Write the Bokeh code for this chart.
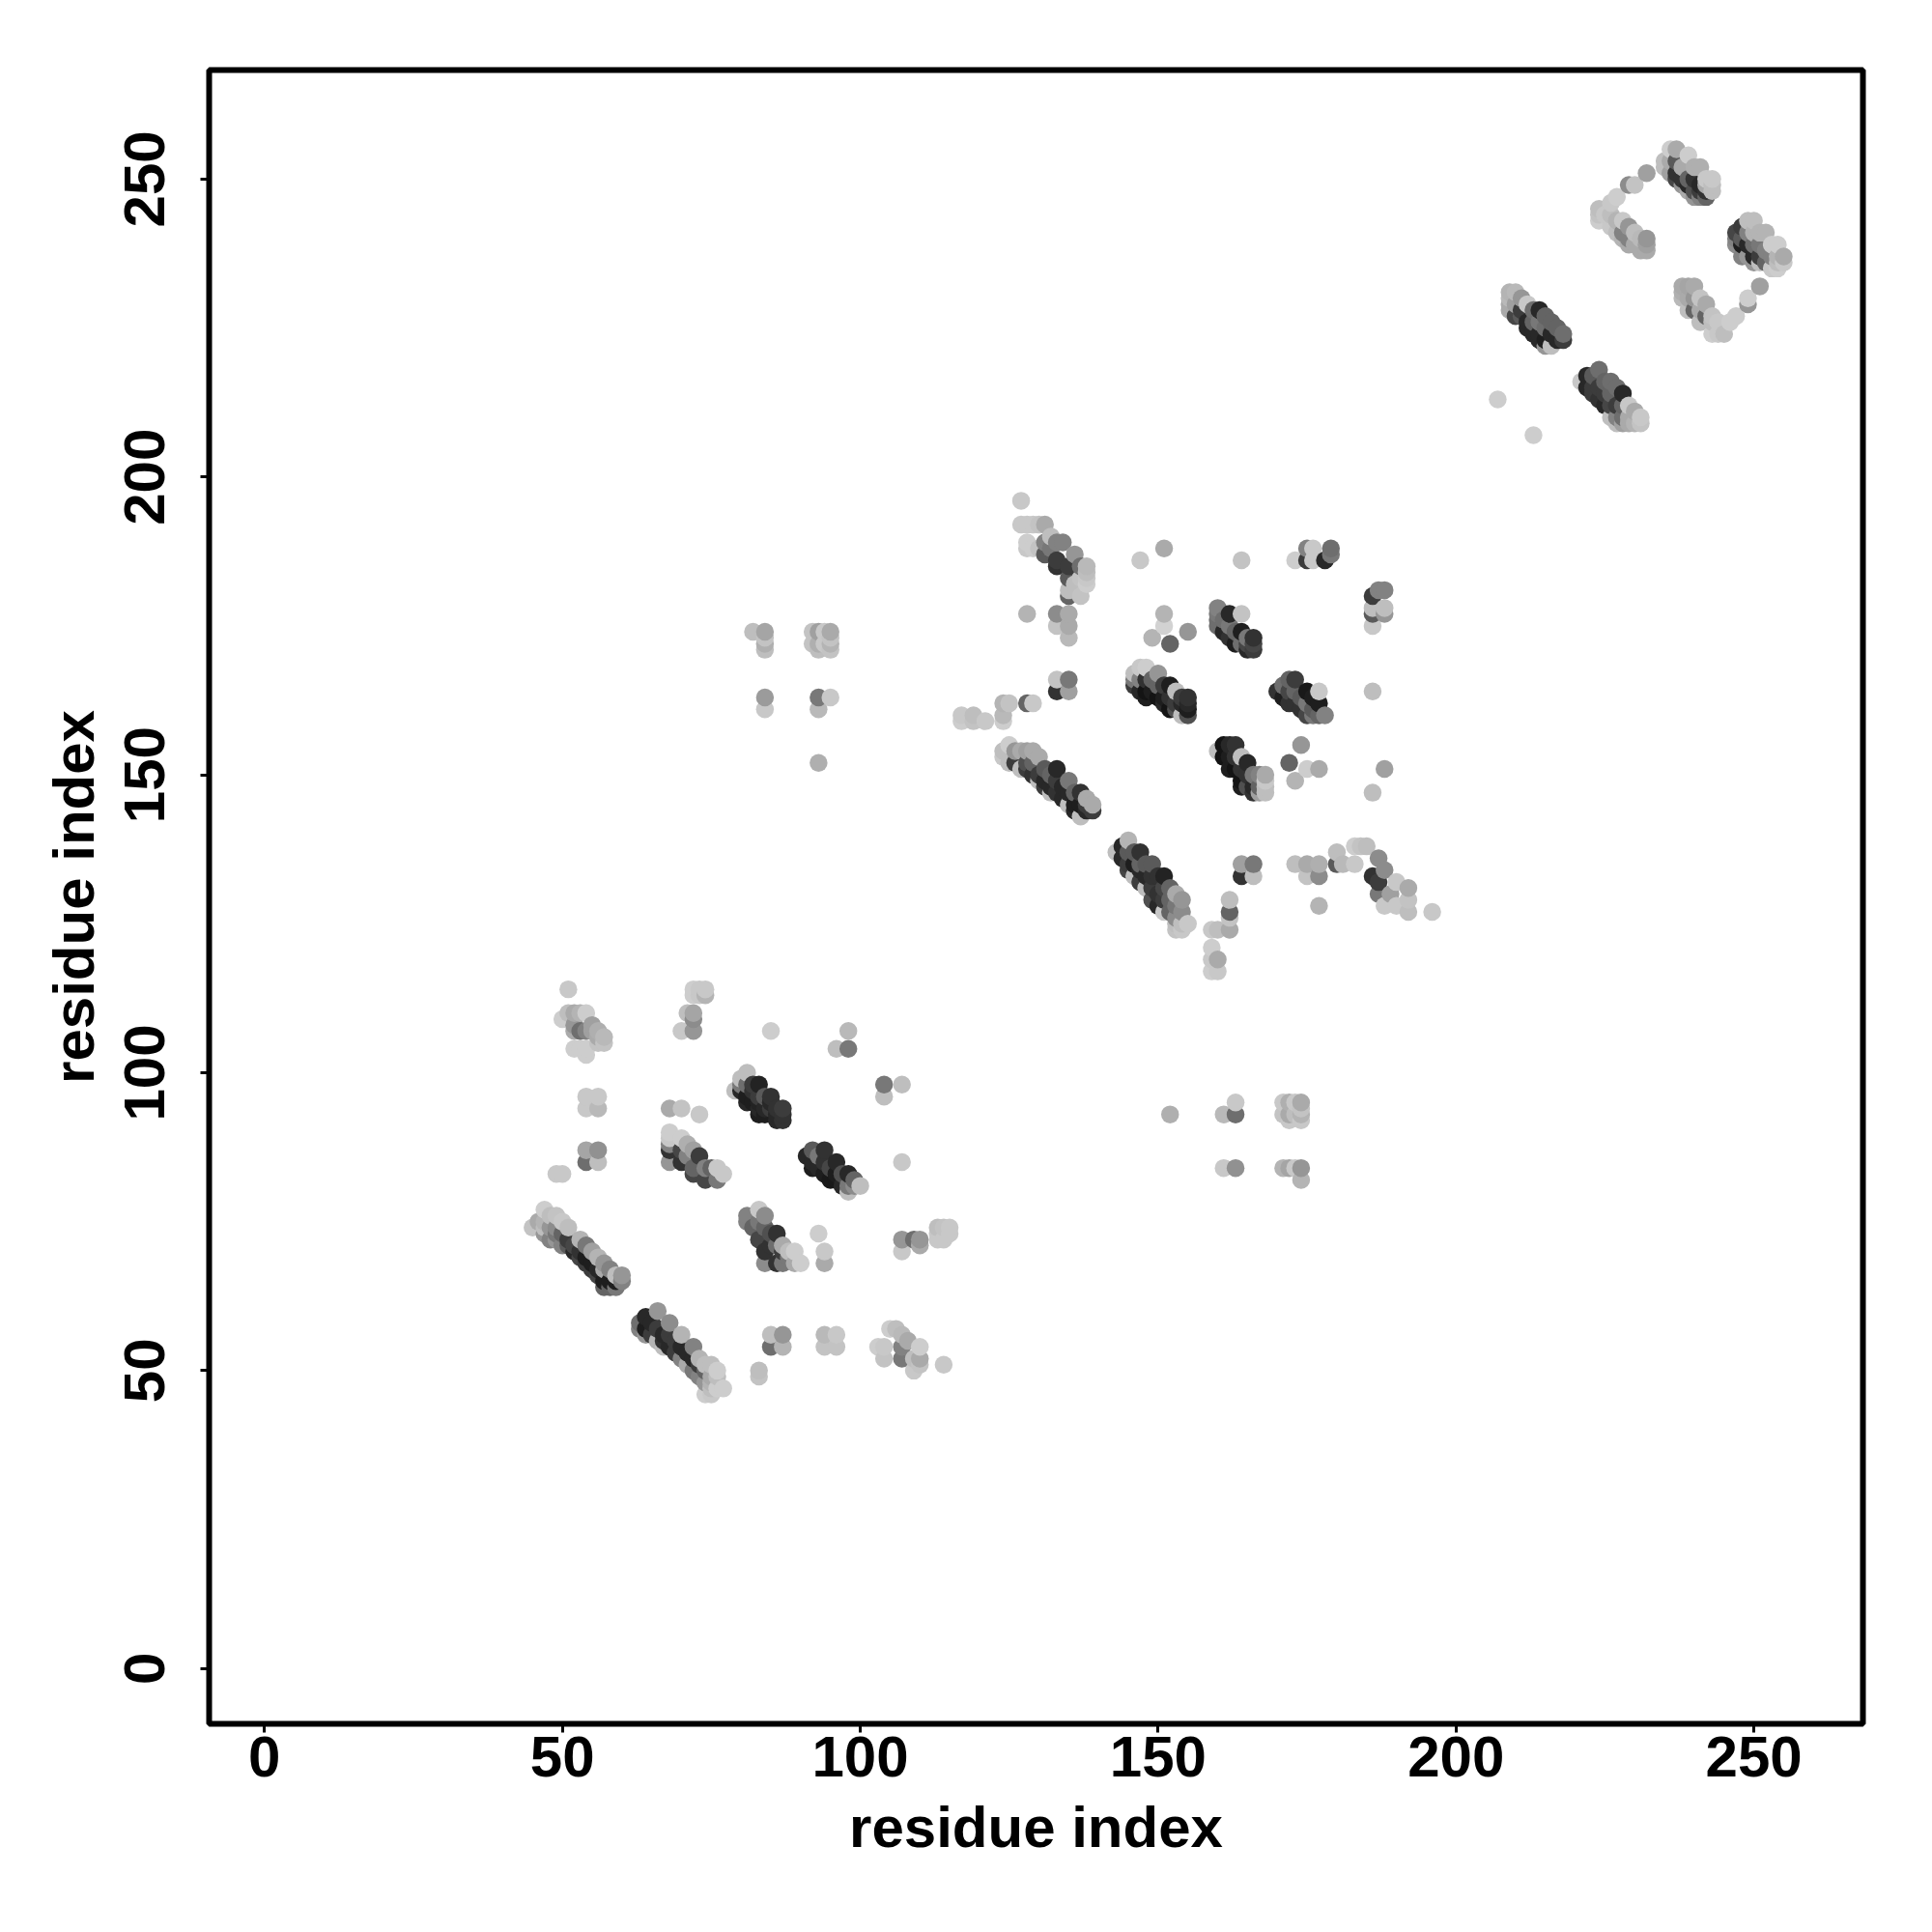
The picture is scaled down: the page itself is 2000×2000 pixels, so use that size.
from bokeh.plotting import figure
from bokeh.models import ColumnDataSource, Range1d, FixedTicker
from bokeh.embed import file_html
from bokeh.resources import INLINE

# contacts: (residue x, residue y, grey level)
iso_a = [(51,114,200),(85,107,205),(98,107,185),(98,104,120),(96,104,190),(104,98,120),(107,98,190),(104,96,190),(107,85,200),
         (93,73,205),(94,70,200),(94,68,170),(107,72,150),(107,70,200),(109,72,110),(110,72,150),(110,71,170),
         (113,74,190),(114,74,195),(115,74,200),(113,73,200),(115,73,200),(113,72,200),(114,72,200)]
clu_a = [(50,109,205),(51,110,190),(52,110,170),(53,110,180),(54,110,205),(52,108,150),(52,107,170),(53,107,110),(54,107,130),
         (55,108,160),(55,107,160),(56,107,175),(56,106,170),(57,106,185),(57,105,195),(56,105,195),(52,104,205),(53,104,205),(54,104,205),(54,103,205)]
clu_b = [(72,114,205),(73,114,200),(74,114,200),(72,113,205),(73,113,200),(74,113,180),(71,110,190),(72,110,165),(72,109,140),(70,107,200),(72,107,150)]
clu_c = [(54,96,200),(56,96,200),(54,94,200),(56,94,185),(54,87,165),(56,87,145),(54,85,110),(56,85,190),(49,83,200),(50,83,200)]
band_e = [(68,94,170),(70,94,195),(73,93,200),(68,90,205),(68,89,200),(70,89,205),(71,88,175),(73,86,60),(68,88,130),(68,87,50),(68,85,150),
          (70,87,70),(70,85,50),(72,83,70),(72,84,100),(74,82,70),(74,84,130),(75,84,100),(76,84,200),(76,82,120),(77,83,200),(71,86,130),(72,87,160)]
band_f = [(79,97,190),(80,99,190),(80,98,120),(80,97,40),(81,100,190),(81,98,110),(81,96,30),(81,95,40),(82,98,60),(82,97,50),(82,95,30),
          (83,98,35),(83,96,60),(83,95,35),(83,94,40),(83,93,30),(84,96,90),(84,94,40),(84,93,30),(85,96,50),(85,95,40),(85,94,60),
          (86,94,50),(86,93,40),(86,92,40),(87,94,60),(87,93,50),(87,92,50)]
band_g = [(91,86,40),(92,87,90),(92,85,40),(92,84,30),(93,86,120),(93,84,40),(94,87,50),(94,85,50),(94,83,30),(95,84,70),(95,82,25),
          (96,85,40),(96,83,30),(96,82,25),(97,83,80),(97,81,40),(98,83,40),(98,81,120),(98,80,190),(99,82,100),(99,81,140),(100,81,190)]
band_h = [(81,76,130),(81,75,130),(82,74,100),(83,77,200),(83,75,120),(83,72,70),(84,76,140),(84,74,100),(84,70,50),(84,68,140),(85,73,80),(85,71,50),
          (86,73,50),(86,71,110),(86,68,50),(87,71,170),(87,70,60),(87,68,120),(88,70,190),(88,69,120),(89,70,205),(89,68,170),(90,68,205)]
band_i = [(45,74,195),(46,75,170),(47,77,205),(47,75,180),(47,74,190),(47,73,150),(48,76,190),(48,74,150),(48,72,130),(49,76,195),(49,74,140),
          (49,73,120),(49,72,150),(50,75,200),(50,73,100),(50,71,130),(51,74,190),(51,72,60),(51,71,90),(52,71,70),(52,70,40),(53,72,180),(53,70,50),
          (53,69,70),(54,71,120),(54,69,30),(54,68,60),(55,70,160),(55,68,30),(55,67,60),(56,69,180),(56,67,40),(56,66,70),(57,68,150),(57,67,170),
          (57,65,30),(57,64,100),(58,67,130),(58,65,30),(58,64,100),(59,66,190),(59,65,30),(59,64,120),(60,66,150),(60,65,130)]
band_j = [(63,58,110),(63,57,130),(64,59,40),(64,57,30),(64,56,150),(65,58,40),(65,56,60),(66,60,150),(66,57,60),(66,55,180),(67,56,40),(67,55,50),
          (67,54,190),(68,58,140),(68,56,60),(68,54,40),(69,55,60),(69,53,60),(70,56,180),(70,54,40),(70,52,130),(71,53,40),(71,51,170),(72,54,130),
          (72,52,40),(72,50,120),(73,52,180),(73,51,60),(73,49,130),(74,51,190),(74,50,100),(74,48,150),(74,46,205),(75,51,190),(75,49,170),(75,48,180),
          (75,47,190),(75,46,200),(76,50,205),(76,49,190),(76,47,205),(77,47,205)]
low_a = [(85,56,190),(87,56,150),(85,54,110),(87,54,180),(83,50,190),(83,49,195),(94,56,185),(96,56,200),(94,54,195),(96,54,195),
         (105,57,205),(106,57,190),(103,54,205),(104,54,200),(104,52,195),(107,56,185),(107,54,130),(108,55,170),(110,54,205),(110,52,170),
         (110,51,195),(109,52,190),(109,50,200),(107,52,120),(114,51,200)]
up_mid = [(82,174,190),(84,174,165),(84,173,195),(84,172,175),(84,171,190),(92,174,195),(92,172,195),(93,174,160),(93,172,175),(93,171,190),(94,174,200),
          (94,172,200),(95,174,170),(95,173,195),(95,172,180),(95,171,195),(84,163,155),(84,161,200),(93,163,120),(95,163,200),(93,161,185),(93,152,175)]
low_mid = [(152,93,175),(161,93,185),(163,95,200),(163,93,110),(171,95,200),(172,95,175),(173,95,200),(174,95,170),(171,93,195),(172,93,170),
           (172,92,200),(173,93,190),(174,94,195),(174,93,180),(174,92,200),(161,84,200),(163,84,145),(171,84,180),(172,84,165),(173,84,200),(174,84,150),(174,82,180)]
band_k = [(127,196,200),(127,192,200),(128,192,200),(129,192,200),(130,192,195),(131,192,170),(132,190,190),(128,189,205),(128,188,200),(129,188,205),
          (130,188,195),(131,189,130),(131,187,90),(133,189,130),(134,189,130),(132,188,120),(133,186,60),(133,185,50),(136,187,150),(137,185,110),(135,185,60),
          (138,185,185),(138,184,190),(138,183,200),(135,183,90),(136,182,190),(137,183,195),(138,182,205),(135,181,190),(135,180,100),(137,180,195),
          (128,177,180),(133,177,140),(135,177,170),(133,175,195),(135,175,170),(135,173,185),(133,166,195),(135,166,120),(133,164,50),(135,164,160),
          (124,162,180),(125,162,195),(128,162,100),(129,162,200),(117,160,200),(117,159,205),(119,160,190),(119,159,195),(121,159,200),(124,160,185),(124,159,205)]
band_l = [(124,154,190),(124,153,200),(125,155,205),(125,152,190),(126,154,150),(126,152,60),(127,154,170),(127,151,190),(128,154,160),(128,152,80),
          (128,151,60),(129,154,170),(129,152,100),(129,150,50),(130,153,170),(130,150,60),(130,149,190),(131,151,90),(131,149,40),(131,148,60),(132,150,100),
          (132,148,40),(132,147,190),(133,151,40),(133,149,60),(133,147,50),(134,148,40),(134,146,40),(135,149,120),(135,147,40),(135,145,190),(136,147,100),
          (136,145,30),(136,144,40),(137,147,50),(137,145,30),(137,143,190),(138,146,170),(138,145,60),(138,144,40),(139,145,170),(139,144,60)]
band_m = [(143,137,190),(144,138,40),(144,136,40),(145,139,180),(145,137,90),(145,135,60),(145,134,70),(146,137,90),(146,135,30),(146,133,190),(147,137,50),
          (147,135,100),(147,134,40),(147,132,60),(148,135,90),(148,133,40),(148,131,190),(149,135,90),(149,133,50),(149,131,60),(149,129,80),(150,133,50),
          (150,130,50),(150,128,40),(151,133,35),(151,131,70),(151,129,60),(151,127,200),(152,131,100),(152,129,100),(152,127,100),(153,130,170),(153,128,120),
          (153,126,140),(153,125,190),(153,124,195),(154,129,150),(154,127,140),(154,125,190),(154,124,200),(155,125,200)]
mid_c = [(159,124,200),(160,124,190),(162,124,170),(162,126,195),(162,127,100),(162,129,190),(159,121,205),(159,119,200),(160,119,170),(159,117,205),(160,117,200),
         (164,135,160),(166,135,120),(164,133,50),(166,133,190),(173,135,190),(175,135,170),(177,135,175),(175,133,195),(177,133,140),(177,128,180),
         (180,137,190),(180,135,90),(181,135,185),(183,138,205),(184,138,195),(185,138,190),(183,135,200),(187,136,140),(188,134,140),(186,133,50),(187,132,60),
         (190,132,200),(192,131,170),(192,129,195),(192,127,190),(188,128,200),(190,128,200),(196,127,200),(189,130,160),(187,130,120)]
band_n = [(160,154,190),(161,155,20),(161,153,20),(162,155,40),(162,153,30),(162,151,30),(163,155,50),(163,153,50),(163,151,20),(164,153,190),(164,151,50),
          (164,149,20),(164,148,30),(165,152,40),(165,150,50),(165,148,80),(166,150,120),(166,148,40),(166,147,50),(167,150,130),(167,148,100),(167,147,160),
          (168,150,170),(168,149,200),(168,148,190),(168,147,190),(174,155,150),(172,152,100),(175,151,205),(177,151,170),(173,149,180),(188,151,160),(186,147,190)]
band_o = [(146,167,190),(146,166,120),(146,165,60),(147,168,200),(147,166,130),(147,164,40),(148,168,205),(148,166,50),(148,164,20),(148,163,30),(149,166,100),
          (149,164,30),(150,167,150),(150,165,100),(150,163,20),(151,165,60),(151,163,30),(151,162,40),(152,165,30),(152,163,50),(152,161,20),(153,164,190),
          (153,162,60),(153,161,80),(154,163,60),(154,162,40),(154,160,190),(155,163,50),(155,162,40),(155,161,30),(155,160,80)]
band_p = [(160,178,130),(160,177,120),(160,176,110),(160,175,110),(161,176,110),(161,174,40),(162,177,40),(162,175,120),(162,173,50),(163,174,100),(163,172,30),
          (164,177,195),(164,174,30),(164,172,110),(165,173,120),(165,172,70),(165,171,40),(166,173,50),(166,172,70),(166,171,60)]
band_q = [(170,164,50),(171,165,110),(171,163,30),(172,166,100),(172,164,70),(172,162,50),(173,166,60),(173,164,100),(173,162,50),(174,163,90),(174,161,50),
          (175,164,25),(175,162,120),(175,160,70),(176,163,30),(176,161,90),(176,160,120),(177,164,200),(177,162,30),(177,160,100),(178,160,130)]
up_c = [(147,186,200),(151,188,170),(164,186,195),(173,186,205),(175,188,130),(175,186,60),(176,188,200),(176,186,200),(178,186,40),(179,188,110),(179,187,120),
        (186,164,190),(186,180,60),(187,181,130),(188,181,130),(186,178,190),(186,177,90),(188,178,190),(188,177,150),(186,175,200),
        (151,177,180),(151,175,210),(149,173,180),(155,174,150),(152,172,100)]
band_r = [(207,213,205),(213,207,205),(209,231,180),(209,230,185),(209,229,170),(209,228,170),(210,231,185),(210,229,160),(210,227,70),(211,230,150),(211,228,60),(211,227,90),
          (212,229,200),(212,226,40),(212,225,40),(213,228,110),(213,226,100),(213,225,40),(213,224,40),(214,228,40),(214,226,120),(214,224,40),(214,223,40),
          (215,227,100),(215,225,110),(215,223,30),(215,222,150),(216,226,100),(216,224,40),(216,222,190),(217,225,100),(217,223,40),(218,224,110),(218,223,60)]
band_s = [(221,216,200),(222,217,40),(222,215,40),(223,217,90),(223,215,60),(223,214,60),(224,218,110),(224,215,60),(224,213,50),(225,216,100),(225,214,60),(225,212,40),
          (226,216,110),(226,214,100),(226,212,70),(226,210,190),(227,215,110),(227,212,60),(227,210,130),(227,209,190),(228,214,40),(228,212,100),(228,210,110),
          (228,209,160),(229,212,200),(229,210,170),(229,209,170),(230,211,170),(230,209,180),(231,210,200),(231,209,195)]
band_w = [(224,245,190),(224,244,195),(224,243,205),(225,244,200),(226,246,200),(226,244,190),(226,242,200),(227,247,205),(227,243,180),(227,241,190),(228,243,200),
          (228,241,130),(228,240,180),(229,249,140),(229,242,150),(229,240,130),(229,239,170),(230,249,195),(230,241,190),(230,239,170),(231,240,185),(231,238,170),
          (232,251,160),(232,240,150),(232,239,160),(232,238,170)]
band_t = [(235,253,190),(235,252,190),(236,255,205),(236,253,170),(236,251,160),(237,255,170),(237,253,90),(237,251,50),(237,250,70),(238,252,170),(238,250,50),
          (238,249,150),(239,254,205),(239,250,100),(239,249,40),(239,248,170),(240,252,175),(240,250,50),(240,248,80),(240,247,150),(241,252,175),(241,249,40),
          (241,248,60),(241,247,130),(242,250,200),(242,249,170),(242,248,50),(242,247,100),(243,250,200),(243,249,190),(243,248,190)]
band_u = [(247,241,70),(247,240,130),(247,239,140),(248,242,60),(248,240,90),(248,239,30),(248,237,130),(249,243,190),(249,241,130),(249,239,40),(249,237,150),
          (250,243,190),(250,241,180),(250,239,110),(250,237,40),(250,236,150),(251,241,180),(251,239,120),(251,237,60),(251,236,190),(252,241,180),(252,238,130),
          (252,236,100),(253,239,205),(253,237,130),(253,235,200),(254,239,205),(254,237,180),(254,236,190),(254,235,205),(255,237,170),(255,236,200)]
band_v = [(238,232,170),(238,231,175),(238,230,185),(239,232,165),(239,230,170),(239,228,190),(240,232,170),(240,230,150),(240,228,100),(241,230,195),(241,228,170),
          (241,226,190),(242,229,170),(242,227,100),(243,227,195),(243,226,190),(243,224,205),(244,226,200),(244,224,200),(245,224,190),(246,226,205),(247,227,205),
          (249,230,205),(249,229,150),(251,232,160)]

tick_values = [0, 50, 100, 150, 200, 250]
axis_title = "residue index"

contacts = sorted(iso_a + clu_a + clu_b + clu_c + band_e + band_f + band_g + band_h + band_i + band_j + low_a + up_mid + low_mid
                  + band_k + band_l + band_m + mid_c + band_n + band_o + band_p + band_q + up_c + band_r + band_s + band_w + band_t + band_u + band_v)

src = ColumnDataSource(dict(
    x=[c[0] for c in contacts],
    y=[c[1] for c in contacts],
    color=["#%02x%02x%02x" % (c[2], c[2], c[2]) for c in contacts],
))

p = figure(width=1984, height=1984, output_backend="svg", toolbar_location=None,
           x_range=Range1d(-9.29, 268.3), y_range=Range1d(-9.29, 268.3),
           min_border_left=216, min_border_right=56, min_border_top=72, min_border_bottom=200)
p.scatter("x", "y", source=src, size=18.5, marker="circle", fill_color="color", line_color=None)

p.grid.visible = False
p.outline_line_color = "black"
p.outline_line_width = 6
p.background_fill_color = "white"

for ax in (p.xaxis[0], p.yaxis[0]):
    ax.ticker = FixedTicker(ticks=tick_values)
    ax.axis_line_color = None
    ax.major_tick_line_color = "black"
    ax.major_tick_line_width = 3
    ax.major_tick_out = 9
    ax.major_tick_in = 0
    ax.minor_tick_line_color = None
    ax.major_label_text_font = "Liberation Sans"
    ax.major_label_text_font_style = "bold"
    ax.major_label_text_font_size = "60px"
    ax.major_label_text_color = "black"
    ax.axis_label = axis_title
    ax.axis_label_text_font = "Liberation Sans"
    ax.axis_label_text_font_style = "bold"
    ax.axis_label_text_font_size = "60px"
    ax.axis_label_text_color = "black"
p.xaxis[0].major_label_standoff = 4
p.xaxis[0].axis_label_standoff = 16
p.yaxis[0].major_label_orientation = "vertical"
p.yaxis[0].major_label_standoff = 37
p.yaxis[0].axis_label_standoff = 17

open("out.html", "w").write(file_html(p, INLINE))
